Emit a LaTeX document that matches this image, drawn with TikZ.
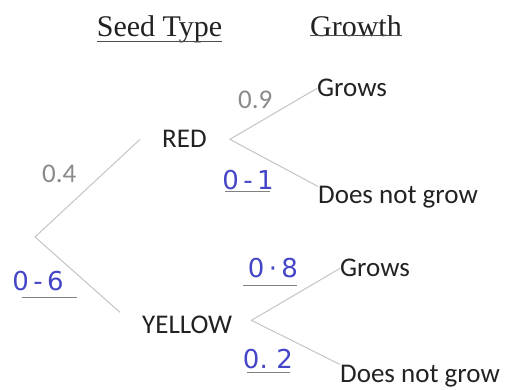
\documentclass[tikz,border=0pt]{standalone}
\usepackage{fontspec}
\setmainfont{Liberation Serif}
\newfontfamily\calfont{Carlito}
\newfontfamily\handfont{DejaVu Sans}
\definecolor{hw}{HTML}{4545C8}
\definecolor{lg}{HTML}{C4C4C4}
\definecolor{gnum}{HTML}{8A8A8A}
\definecolor{ink}{HTML}{222222}
\begin{document}
\begin{tikzpicture}[x=1pt,y=-1pt,
  lab/.style={font=\calfont\fontsize{27}{30}\selectfont, text=ink, inner sep=0pt, anchor=base west},
  hd/.style={font=\fontsize{30}{34}\selectfont, text=ink, inner sep=0pt, anchor=base},
  gp/.style={font=\calfont\fontsize{27}{30}\selectfont, text=gnum, inner sep=0pt, anchor=base west},
  hp/.style={font=\handfont\fontsize{26}{30}\selectfont, text=hw, inner sep=0pt},
  br/.style={draw=lg, line width=1pt},
  ul/.style={draw=ink!80, line width=0.9pt},
  hul/.style={draw=gray, line width=0.9pt}]
\useasboundingbox (0,0) rectangle (509,390);
% headers
\node[hd] (seed) at (159.5,37) {Seed Type};
\node[hd] (growth) at (356,37) {Growth};
\draw[ul] ([yshift=2.5pt]seed.south west) -- ([yshift=2.5pt]seed.south east);
\draw[ul] ([yshift=2.5pt]growth.south west) -- ([yshift=2.5pt]growth.south east);
% nodes
\coordinate (root) at (35,237);
\node[lab] (red) at (162,148) {RED};
\node[lab] (yellow) at (142,333) {YELLOW};
\node[lab] (g1) at (317,97) {Grows};
\node[lab] (d1) at (318,204) {Does not grow};
\node[lab] (g2) at (340,277) {Grows};
\node[lab] (d2) at (340,382) {Does not grow};
\coordinate (redin) at ([xshift=-22pt]red.west);
\coordinate (redout) at ([xshift=23pt]red.east);
\coordinate (yelin) at ([shift={(-22pt,12pt)}]yellow.west);
\coordinate (yelout) at ([shift={(19pt,4pt)}]yellow.east);
% branches
\draw[br] (root) -- (redin);
\draw[br] (root) -- (yelin);
\draw[br] (g1.west) -- (redout) -- (d1.north west);
\draw[br] (g2.west) -- (yelout) -- (d2.north west);
% printed probabilities
\node[gp] (p04) at (42,183) {0.4};
\node[gp] (p09) at (238,109) {0.9};
% handwritten probabilities
\node[hp] (p01) at (248,180) {0\,-\,1};
\draw[hul] (225,191) -- (270,191);
\node[hp] (p06) at (38,281) {0\,-\,6};
\draw[hul] (22,297) -- (77,297);
\node[hp] (p08) at (273,268) {0\,·\,8};
\draw[hul] (243,285) -- (297,285);
\node[hp] (p02) at (268,359) {0.\,\,2};
\draw[hul] (247,372) -- (290,372);
\end{tikzpicture}
\end{document}
